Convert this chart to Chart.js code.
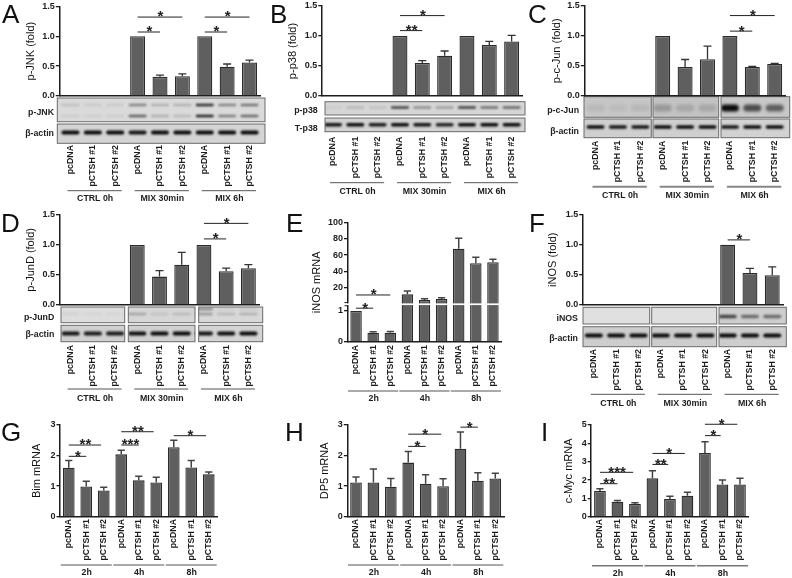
<!DOCTYPE html>
<html>
<head>
<meta charset="utf-8">
<script src="https://cdn.jsdelivr.net/npm/chart.js@4"></script>
<style>
  html, body { margin: 0; background: #fff; overflow: hidden; }
  #stage { position: relative; width: 792px; height: 578px; overflow: hidden; font-family: "Liberation Sans", Arial, sans-serif; }
  #stage canvas { position: absolute; }
  .letter { position: absolute; font-size: 26px; line-height: 26px; color: #111; }
  .blot-label { position: absolute; font-size: 8.8px; font-weight: bold; line-height: 10px; color: #222; text-align: right; white-space: nowrap; transform: translate(-100%, -50%); }
</style>
</head>
<body>
<div id="stage"><canvas id="blots" width="792" height="578" style="left:0;top:0"></canvas></div>
<script>
/* ── Data ── */
const categories = ['pcDNA','pCTSH #1','pCTSH #2','pcDNA','pCTSH #1','pCTSH #2','pcDNA','pCTSH #1','pCTSH #2'];
const groupsBlot = ['CTRL 0h','MIX 30min','MIX 6h'];
const groupsTime = ['2h','4h','8h'];
const foldTicks  = [0, 0.5, 1, 1.5];
const mrnaTicks3 = [0, 1, 2, 3];
const mrnaTicks5 = [0, 1, 2, 3, 4, 5];
const brokenTicks = [0, 1, 20, 40, 60, 80, 100];

// bar heights, then top of the error whisker, then [from, to, height, stars]
const valuesA = [0,0,0,1,0.32,0.33,1,0.49,0.56];
const whiskerA = [null,null,null,null,0.35,0.37,null,0.535,0.60];
const sigA = [[3,4,1.07,'*'],[3,5,1.32,'*'],[6,7,1.07,'*'],[6,8,1.32,'*']];

const valuesB = [0,0,0,1,0.55,0.67,1,0.85,0.91];
const whiskerB = [null,null,null,null,0.59,0.75,null,0.91,1.01];
const sigB = [[3,4,1.09,'**'],[3,5,1.34,'*']];

const valuesC = [0,0,0,1,0.48,0.61,1,0.48,0.53];
const whiskerC = [null,null,null,null,0.605,0.83,null,0.49,0.54];
const sigC = [[6,7,1.08,'*'],[6,8,1.34,'*']];

const valuesD = [0,0,0,1,0.47,0.67,1,0.56,0.61];
const whiskerD = [null,null,null,null,0.57,0.875,null,0.61,0.67];
const sigD = [[6,7,1.10,'*'],[6,8,1.36,'*']];

const valuesE = [1,0.3,0.3,11.7,4.7,5.9,68,50,51.2];
const whiskerE = [null,0.33,0.34,15.8,6.3,7.5,80.8,57.4,55];
const sigE = [[0,1,1.09,'*'],[0,2,10.9,'*']];

const valuesF = [0,0,0,0,0,0,1,0.53,0.49];
const whiskerF = [null,null,null,null,null,null,null,0.605,0.63];
const sigF = [[6,7,1.08,'*']];

const valuesG = [1.60,0.99,0.86,2.04,1.19,1.12,2.27,1.61,1.385];
const whiskerG = [1.84,1.156,0.96,2.17,1.32,1.29,2.5,1.84,1.46];
const sigG = [[0,1,1.975,'*'],[0,1.85,2.345,'**'],[3,4,2.345,'***'],[3,4.85,2.78,'**'],[6,7.85,2.65,'*']];

const valuesH = [1.12,1.12,0.98,1.77,1.08,1,2.225,1.18,1.25];
const whiskerH = [1.30,1.56,1.25,2.13,1.37,1.24,2.77,1.44,1.42];
const sigH = [[3,4,2.3,'*'],[3,4.9,2.7,'*'],[6,7,2.93,'*']];

const valuesI = [1.40,0.82,0.69,2.09,0.96,1.145,3.47,1.76,1.76];
const whiskerI = [1.53,0.89,0.76,2.51,1.11,1.33,4.09,2.0,2.09];
const sigI = [[0,1,1.8,'**'],[0,1.9,2.42,'***'],[3,3.9,2.85,'**'],[3,4.85,3.45,'*'],[6,6.9,4.42,'*'],[6,7.85,5.04,'*']];

// blot band darkness per lane
const blotA1 = [0.12,0.08,0.08,0.42,0.2,0.2,0.85,0.42,0.5];
const blotA2 = [0.07,0.06,0.06,0.6,0.2,0.16,0.9,0.45,0.55];
const blotA3 = [1,1,1,0.95,1,1,1,1,1];
const blotB1 = [0.06,0.14,0.1,0.75,0.36,0.28,0.75,0.5,0.55];
const blotB2 = [0.95,1,0.92,1,0.95,0.88,1,1,1];
const blotC1 = [0.07,0.05,0.08,0.22,0.14,0.14,1,0.65,0.55];
const blotC2 = [1,0.95,0.95,1,1,1,0.95,1,1];
const blotD1 = [0.06,0.04,0.04,0.26,0.1,0.14,0.3,0.16,0.2];
const blotD3 = [0,0,0,0,0,0,0.4,0.05,0.08];
const blotD2 = [0.95,0.92,0.92,0.98,1,1,0.95,0.98,1];
const blotF1 = [0,0,0,0,0,0,0.7,0.5,0.5];
const blotF2 = [1,1,1,1,1,1,1,1,1];

/* ── Layout ── */
const BAR = '#5f5f5f', EDGE = '#2b2b2b', INK = '#1c1c1c';
const FONT = '"Liberation Sans", Arial, sans-serif';

const panels = [
  { id:'A', title:'p-JNK (fold)', values:valuesA, whisker:whiskerA, sig:sigA, ticks:foldTicks, groups:groupsBlot,
    left:59.3, right:260.7, top:6.3, bottom:96, titleX:30.7, tickTop:145, lineY:190.7, textY:199, letter:[2,1] },
  { id:'B', title:'p-p38 (fold)', values:valuesB, whisker:whiskerB, sig:sigB, ticks:foldTicks, groups:groupsBlot,
    left:321.8, right:522.8, top:6, bottom:96, titleX:293, tickTop:136.7, lineY:182.7, textY:191.7, letter:[270,1] },
  { id:'C', title:'p-c-Jun (fold)', values:valuesC, whisker:whiskerC, sig:sigC, ticks:foldTicks, groups:groupsBlot,
    left:584.3, right:785.9, top:6, bottom:95.7, titleX:556.3, tickTop:140.7, lineY:186.7, textY:195.7, lineW:2, lineColor:'#888', letter:[528,1] },
  { id:'D', title:'p-JunD (fold)', values:valuesD, whisker:whiskerD, sig:sigD, ticks:foldTicks, groups:groupsBlot,
    left:59.5, right:259.5, top:215, bottom:304.7, titleX:30.7, tickTop:345, lineY:389, textY:399, letter:[1,209.7] },
  { id:'E', title:'iNOS mRNA', values:valuesE, whisker:whiskerE, sig:sigE, ticks:brokenTicks, groups:groupsTime, broken:true,
    left:347.5, right:501.5, top:222.7, bottom:342, titleX:316.7, tickTop:345, lineY:391, textY:399, narrow:true, letter:[286,209.7] },
  { id:'F', title:'iNOS (fold)', values:valuesF, whisker:whiskerF, sig:sigF, ticks:foldTicks, groups:groupsBlot,
    left:582.7, right:783.4, top:214.7, bottom:304.7, titleX:552.7, tickTop:349, lineY:394.3, textY:403.3, letter:[529,209.7] },
  { id:'G', title:'Bim mRNA', values:valuesG, whisker:whiskerG, sig:sigG, ticks:mrnaTicks3, groups:groupsTime,
    left:60, right:217.5, top:425, bottom:516.7, titleX:36.7, tickTop:519, lineY:565, textY:572.7, narrow:true, letter:[1,418.5] },
  { id:'H', title:'DP5 mRNA', values:valuesH, whisker:whiskerH, sig:sigH, ticks:mrnaTicks3, groups:groupsTime,
    left:347.3, right:504, top:425, bottom:516.7, titleX:324.3, tickTop:519, lineY:565, textY:572.7, narrow:true, letter:[285,418.5] },
  { id:'I', title:'c-Myc mRNA', values:valuesI, whisker:whiskerI, sig:sigI, ticks:mrnaTicks5, groups:groupsTime,
    left:591.2, right:748.7, top:425, bottom:516.7, titleX:568.7, tickTop:519, lineY:565.7, textY:573.3, narrow:true, lineW:1.5, lineColor:'#777', letter:[541,418.5] }
];

const blotRows = [
  { panel:'A', y0:98, y1:121.7, bg:['#dadada'], segs:[[57.3,265]], label:'p-JNK', labelX:54, labelY:112, bh:2.4, bands:[[105,blotA1],[116,blotA2]] },
  { panel:'A', y0:124, y1:143.3, bg:['#d4d4d4'], segs:[[57.3,265]], label:'β-actin', labelX:54, labelY:133, bh:3.8, bands:[[132.5,blotA3]] },
  { panel:'B', y0:101.7, y1:115, bg:['#d6d6d6'], segs:[[325,525]], label:'p-p38', labelX:317.7, labelY:110, bh:2.4, bands:[[107.5,blotB1]] },
  { panel:'B', y0:118, y1:131.7, bg:['#d2d2d2'], segs:[[325,525]], label:'T-p38', labelX:317.7, labelY:128, bh:3.6, bands:[[124.8,blotB2]] },
  { panel:'C', y0:96.7, y1:117.3, bg:['#c6c6c6','#c2c2c2','#c8c8c8'], segs:[[584,651.3],[653,718.7],[721,789.7]], label:'p-c-Jun', labelX:579, labelY:110, bh:7, bands:[[108,blotC1]] },
  { panel:'C', y0:119, y1:137.7, bg:['#cfcfcf','#cfcfcf','#d2d2d2'], segs:[[584,651.3],[653,718.7],[721,789.7]], label:'β-actin', labelX:579, labelY:130.7, bh:3.6, bands:[[127,blotC2]] },
  { panel:'D', y0:307, y1:322.7, bg:['#dddddd','#d6d6d6','#d8d8d8'], segs:[[61,124.7],[128.3,195],[198.7,262.7]], label:'p-JunD', labelX:54.3, labelY:317.3, bh:2.6, bands:[[314,blotD1],[309,blotD3]] },
  { panel:'D', y0:325.3, y1:341.7, bg:['#d0d0d0','#d0d0d0','#d4d4d4'], segs:[[61,124.7],[128.3,195],[198.7,262.7]], label:'β-actin', labelX:54.3, labelY:334, bh:3.8, bands:[[333.5,blotD2]] },
  { panel:'F', y0:307.3, y1:324, bg:['#e0e0e0','#e0e0e0','#cecece'], segs:[[583,649.7],[651.7,716.7],[719,786.3]], label:'iNOS', labelX:578, labelY:318, bh:3.6, bands:[[316.5,blotF1]] },
  { panel:'F', y0:326.7, y1:346.7, bg:['#cdcdcd','#cdcdcd','#cdcdcd'], segs:[[583,649.7],[651.7,716.7],[719,786.3]], label:'β-actin', labelX:578, labelY:338.3, bh:4.2, bands:[[335.5,blotF2]] }
];

/* ── Scale with a break, for panel E ── */
const BREAK_AT = 1.2, UPPER_START = 0.32;
class BrokenScale extends Chart.LinearScale {
  static id = 'broken';
  static defaults = Chart.LinearScale.defaults;
  getPixelForValue(v) {
    const d = v <= BREAK_AT ? v * 0.26 : UPPER_START + (1 - UPPER_START) * v / 100;
    return this.getPixelForDecimal(d);
  }
}
Chart.register(BrokenScale);

/* ── Marks drawn through the scales ── */
function marksPlugin(p) {
  return {
    id: 'marks' + p.id,
    afterDraw(chart) {
      const ctx = chart.ctx, x = chart.scales.x, y = chart.scales.y;
      ctx.save();
      // error whiskers
      ctx.strokeStyle = p.narrow ? '#444' : '#333'; ctx.lineWidth = p.narrow ? 1.5 : 1.3;
      p.whisker.forEach((top, i) => {
        if (top === null) return;
        const cx = x.getPixelForValue(i), y0 = y.getPixelForValue(p.values[i]), y1 = y.getPixelForValue(top);
        const cap = p.narrow ? 3.6 : 4;
        ctx.beginPath(); ctx.moveTo(cx, y0); ctx.lineTo(cx, y1);
        ctx.moveTo(cx - cap, y1); ctx.lineTo(cx + cap, y1); ctx.stroke();
      });
      // axis break
      if (p.broken) {
        const yb = y.getPixelForValue(BREAK_AT) - 0.6;
        ctx.fillStyle = '#fff'; ctx.fillRect(x.left - 4, yb - 0.8, x.right - x.left + 6, 1.7);
        ctx.strokeStyle = INK; ctx.lineWidth = 1;
        [yb - 1.6, yb + 1.6].forEach(t => { ctx.beginPath(); ctx.moveTo(x.left - 3, t); ctx.lineTo(x.left, t); ctx.stroke(); });
      }
      // significance lines
      ctx.strokeStyle = '#222'; ctx.lineWidth = 1; ctx.fillStyle = '#222';
      p.sig.forEach(([a, b, h, stars]) => {
        const x0 = x.getPixelForValue(a), x1 = x.getPixelForValue(b), ly = y.getPixelForValue(h);
        ctx.beginPath(); ctx.moveTo(x0, ly); ctx.lineTo(x1, ly); ctx.stroke();
        ctx.font = 'bold 15px ' + FONT; ctx.textAlign = 'center'; ctx.textBaseline = 'alphabetic';
        ctx.fillText(stars, (x0 + x1) / 2 + 0.5, ly + 4.4);
      });
      // group lines and names
      const offL = p.narrow ? 8 : 3, offR = p.narrow ? 8 : 6.5;
      const top = chart.canvas.offsetTop;
      p.groups.forEach((name, g) => {
        const x0 = x.getPixelForValue(g * 3) - offL, x1 = x.getPixelForValue(g * 3 + 2) + offR;
        ctx.strokeStyle = p.lineColor || '#555'; ctx.lineWidth = p.lineW || 1;
        ctx.beginPath(); ctx.moveTo(x0, p.lineY - top); ctx.lineTo(x1, p.lineY - top); ctx.stroke();
        ctx.fillStyle = INK; ctx.font = 'bold 8.8px ' + FONT; ctx.textAlign = 'center'; ctx.textBaseline = 'middle';
        ctx.fillText(name, (x0 + x1) / 2 + 0.5, p.textY - top);
      });
      ctx.restore();
    }
  };
}

/* ── Charts ── */
const stage = document.getElementById('stage');
const charts = {};

panels.forEach(p => {
  const x0 = Math.round(p.titleX - 6.6), y0 = Math.round(p.top - 14);
  const w = Math.ceil(p.right + 8 - x0), h = Math.ceil(p.textY + 8 - y0);
  const cv = document.createElement('canvas');
  cv.width = w; cv.height = h;
  cv.style.left = x0 + 'px'; cv.style.top = y0 + 'px';
  stage.appendChild(cv);

  const l = document.createElement('div');
  l.className = 'letter'; l.textContent = p.id;
  l.style.left = p.letter[0] + 'px'; l.style.top = p.letter[1] + 'px';
  stage.appendChild(l);

  charts[p.id] = new Chart(cv, {
    type: 'bar',
    data: { labels: categories, datasets: [{ data: p.values, backgroundColor: BAR, borderColor: EDGE, borderWidth: 1.3,
      barPercentage: 0.67, categoryPercentage: 1 }] },
    options: {
      responsive: false, animation: false, devicePixelRatio: 1, events: [],
      layout: { padding: { top: p.top - y0, right: w - (p.right - x0), left: 0, bottom: 0 } },
      plugins: { legend: { display: false }, tooltip: { enabled: false } },
      scales: {
        x: {
          grid: { display: false, drawTicks: false },
          border: { color: INK, width: 1.5 },
          ticks: { autoSkip: false, minRotation: 90, maxRotation: 90, padding: p.tickTop - p.bottom,
            color: INK, font: { family: FONT, size: 8.8, weight: 'bold' } },
          afterFit: s => { s.height = h - (p.bottom - y0); s.paddingLeft = 0; s.paddingRight = 0; }
        },
        y: {
          type: p.broken ? 'broken' : 'linear',
          min: 0, max: p.ticks[p.ticks.length - 1],
          grid: { drawOnChartArea: false, tickLength: 3.5, tickColor: INK, lineWidth: 1.3 },
          border: { color: INK, width: 1.5 },
          title: { display: true, text: p.title, color: '#111', padding: 0, font: { family: FONT, size: 11 } },
          ticks: { padding: 1, color: INK, font: { family: FONT, size: 9, weight: 'bold' },
            callback: v => (p.ticks === foldTicks ? v.toFixed(1) : String(v)) },
          afterBuildTicks: s => { s.ticks = p.ticks.map(v => ({ value: v })); },
          afterFit: s => { s.width = p.left - x0; }
        }
      }
    },
    plugins: [marksPlugin(p)]
  });
});

/* ── Blot strips ── */
function drawBlots() {
  const ctx = document.getElementById('blots').getContext('2d');
  blotRows.forEach(r => {
    const chart = charts[r.panel], x = chart.scales.x, left = chart.canvas.offsetLeft;
    r.segs.forEach((s, i) => {
      ctx.fillStyle = r.bg[i % r.bg.length];
      ctx.fillRect(s[0], r.y0, s[1] - s[0], r.y1 - r.y0);
    });
    // bands stay inside their own strip
    ctx.save();
    ctx.beginPath();
    r.segs.forEach(s => ctx.rect(s[0], r.y0, s[1] - s[0], r.y1 - r.y0));
    ctx.clip();
    ctx.filter = 'blur(' + (r.bh > 5 ? 1.8 : 0.8) + 'px)';
    r.bands.forEach(([by, vals]) => {
      vals.forEach((v, i) => {
        if (!v) return;
        const cx = x.getPixelForValue(i) + left;
        ctx.fillStyle = 'rgba(10,10,10,' + v + ')';
        ctx.beginPath();
        ctx.roundRect(cx - 9, by - r.bh / 2, 18, r.bh, r.bh / 2);
        ctx.fill();
      });
    });
    ctx.restore();
    r.segs.forEach(s => {
      ctx.strokeStyle = '#6a6a6a'; ctx.lineWidth = 1;
      ctx.strokeRect(s[0], r.y0, s[1] - s[0], r.y1 - r.y0);
    });
    const lb = document.createElement('div');
    lb.className = 'blot-label'; lb.textContent = r.label;
    lb.style.left = r.labelX + 'px'; lb.style.top = r.labelY + 'px';
    stage.appendChild(lb);
  });
}
drawBlots();
</script>
</body>
</html>
